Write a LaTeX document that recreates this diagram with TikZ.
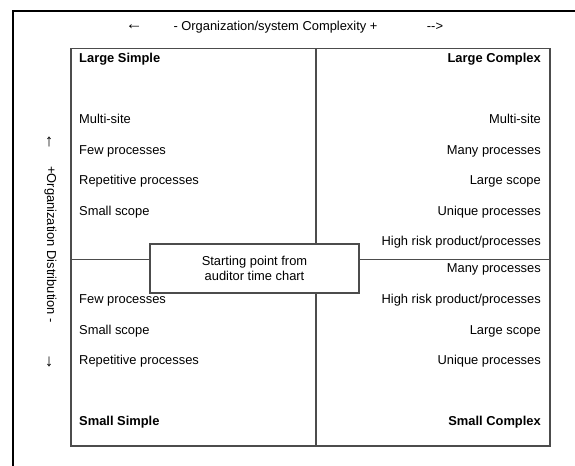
\documentclass[tikz,border=0pt]{standalone}
\usepackage{fontspec}
\setmainfont{Liberation Sans}
\begin{document}
\begin{tikzpicture}[x=1bp,y=-1bp,
  every node/.style={inner sep=0pt, font=\fontsize{12.9bp}{15.5bp}\selectfont},
  lt/.style={anchor=base west},
  rt/.style={anchor=base east},
  hd/.style={font=\fontsize{12.9bp}{15.5bp}\selectfont\bfseries},
  arr/.style={font=\fontsize{17bp}{18bp}\selectfont},
  gridline/.style={draw=black!70, line width=1.1bp},
  framel/.style={draw=black, line width=2bp},
  startbox/.style={draw=black!70, line width=1.1bp, fill=white, minimum width=209bp, minimum height=49bp, align=center}
]
\useasboundingbox (0,0) rectangle (575,466);
% outer frame
\draw[framel] (12.5,466) -- (12.5,11) -- (575,11);
% title
\node[arr] (larr) at (134,27) {←};
\node (title) at (275.5,27) {- Organization/system Complexity +};
\node (rarr) at (435,27) {-{}->};
% vertical label
\node[arr] (uarr) at (49,142) {↑};
\node[rotate=-90] (vtitle) at (50.5,244.5) {+Organization Distribution -};
\node[arr] (darr) at (49,362) {↓};
% quadrant grid
\coordinate (tl) at (71,48.7);
\coordinate (br) at (550,446);
\draw[gridline] (tl) rectangle (br);
\draw[gridline] (316,48.7) -- (316,446);
\draw[gridline] (71,259.3) -- (550,259.3);
% upper left
\node[lt,hd] (ls) at (79,62.5) {Large Simple};
\node[lt] (ul1) at (79,124) {Multi-site};
\node[lt] (ul2) at (79,154.5) {Few processes};
\node[lt] (ul3) at (79,185) {Repetitive processes};
\node[lt] (ul4) at (79,215.5) {Small scope};
% upper right
\node[rt,hd] (lc) at (541,62.5) {Large Complex};
\node[rt] (ur1) at (541,124) {Multi-site};
\node[rt] (ur2) at (541,154.5) {Many processes};
\node[rt] (ur3) at (541,185) {Large scope};
\node[rt] (ur4) at (541,215.5) {Unique processes};
\node[rt] (ur5) at (541,246) {High risk product/processes};
% lower left
\node[lt] (ll1) at (79,303.5) {Few processes};
\node[lt] (ll2) at (79,334) {Small scope};
\node[lt] (ll3) at (79,364.5) {Repetitive processes};
\node[lt,hd] (ss) at (79,425.5) {Small Simple};
% lower right
\node[rt] (lr1) at (541,273) {Many processes};
\node[rt] (lr2) at (541,303.5) {High risk product/processes};
\node[rt] (lr3) at (541,334) {Large scope};
\node[rt] (lr4) at (541,364.5) {Unique processes};
\node[rt,hd] (sc) at (541,425.5) {Small Complex};
% starting box
\node[startbox] (start) at (254.5,268.5) {Starting point from\\auditor time chart};
\end{tikzpicture}
\end{document}
